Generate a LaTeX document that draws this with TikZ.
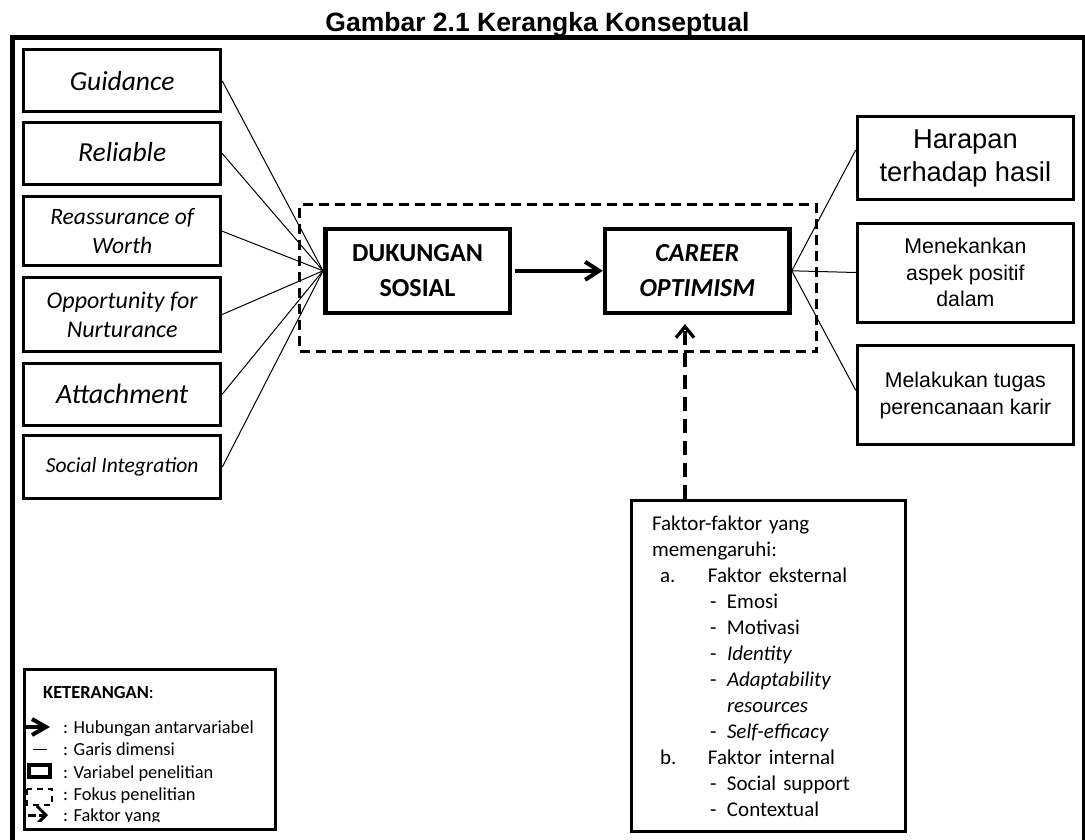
\documentclass[tikz,border=0pt]{standalone}
\usepackage{fontspec}
\setmainfont{Carlito}
\newfontfamily\arialfont{Liberation Sans}
\usetikzlibrary{positioning}
\usetikzlibrary{arrows.meta}
\newcommand{\poin}[2]{\hspace*{8pt}\makebox[48pt][l]{#1}#2}
\newcommand{\subpoin}[1]{\hspace*{58pt}\makebox[17pt][l]{-}#1}
\tikzset{
    dimnode/.style = {rectangle, draw=black, line width=3pt, inner sep=0pt, minimum width=197pt, minimum height=62pt, align=center, font=\itshape\fontsize{#1}{29}\selectfont},
    varnode/.style = {rectangle, draw=black, line width=4.5pt, inner sep=0pt, minimum width=184.5pt, minimum height=84pt, align=center, font=\fontsize{26}{34.5}\selectfont\bfseries},
    indnode/.style = {rectangle, draw=black, line width=3pt, inner sep=0pt, minimum width=216.3pt, minimum height=99pt, align=center, font=\arialfont\fontsize{21.3}{26.5}\selectfont},
    fokusnode/.style = {rectangle, draw=black, line width=3pt, dash pattern=on 10pt off 6pt, inner sep=0pt, minimum width=517pt, minimum height=147pt},
    faktnode/.style = {rectangle, draw=black, line width=3pt, inner sep=0pt, minimum width=274pt, minimum height=331pt, text width=233pt, align=left, font=\fontsize{21}{26}\selectfont},
    ketnode/.style = {rectangle, draw=black, line width=3pt, inner sep=0pt, minimum width=251pt, minimum height=160pt},
    kettext/.style = {anchor=base west, inner sep=0pt, font=\fontsize{18.4}{22}\selectfont},
    titlenode/.style = {anchor=base, inner sep=0pt, font=\arialfont\bfseries\fontsize{26.5}{30}\selectfont},
    edgen/.style = {-, line width=1pt, black},
    edgea/.style = {-{Straight Barb[length=14pt,width=18pt]}, line width=4pt, black},
    edged/.style = {-{Straight Barb[length=11pt,width=18pt]}, line width=3.3pt, black, dash pattern=on 14pt off 8pt},
    frame/.style = {line width=5.5pt, black}
}
\begin{document}
\begin{tikzpicture}[x=1pt, y=-1pt]
\path[use as bounding box] (0,0) rectangle (1085,840);
\clip (0,0) rectangle (1085,840);

\node[titlenode] at (537.5, 32.0) (judul) {Gambar 2.1 Kerangka Konseptual};
\draw[frame] (12.5,37.5) rectangle (1084.5,900);

\node[fokusnode] at (558.0, 278.0) (fokus) {};
%
\node[dimnode=27.5] at (122.2, 80.8) (guid) {Guidance};
\node[dimnode=27.5] at (122.2, 153.5) (reli) {\raisebox{4pt}{Reliable}};
\node[dimnode=23.5, minimum height=69pt] at (122.2, 231.2) (reas) {\raisebox{-5pt}{Reassurance of}\\\raisebox{-5pt}{Worth}};
\node[dimnode=24, minimum height=74.6pt] at (122.2, 314.5) (oppo) {Opportunity for\\Nurturance};
\node[dimnode=28] at (122.2, 394.2) (atta) {Attachment};
\node[dimnode=21.5, minimum height=62.7pt] at (122.2, 467.2) (soci) {Social Integration};
%
\node[varnode] at (417.5, 270.8) (dukungan) {DUKUNGAN\\SOSIAL};
\node[varnode] at (697.3, 270.8) (career) {\textit{CAREER}\\\textit{OPTIMISM}};
%
\node[indnode, font=\arialfont\fontsize{27.3}{33}\selectfont, minimum height=83pt] at (965.4, 158.0) (hara) {Harapan\\terhadap hasil};
\node[indnode] at (965.4, 272.5) (mene) {Menekankan\\aspek positif\\dalam};
\node[indnode] at (965.4, 395.3) (mela) {Melakukan tugas\\perencanaan karir};
%
\node[faktnode] at (768.5, 666.0) (fakt) {Faktor-faktor yang\\
memengaruhi:\\
\poin{a.}{Faktor eksternal}\\
\subpoin{Emosi}\\
\subpoin{Motivasi}\\
\subpoin{\textit{Identity}}\\
\subpoin{\textit{Adaptability}}\\
\hspace*{75pt}\textit{resources}\\
\subpoin{\textit{Self-efficacy}}\\
\poin{b.}{Faktor internal}\\
\subpoin{Social support}\\
\subpoin{Contextual}};
%
\draw[edgen] (guid.east) -- (dukungan.west);
\draw[edgen] (reli.east) -- (dukungan.west);
\draw[edgen] (reas.east) -- (dukungan.west);
\draw[edgen] (oppo.east) -- (dukungan.west);
\draw[edgen] (atta.east) -- (dukungan.west);
\draw[edgen] (soci.east) -- (dukungan.west);
\draw[edgen] (career.east) -- ([yshift=8pt]hara.west);
\draw[edgen] (career.east) -- (mene.west);
\draw[edgen] (career.east) -- ([yshift=5pt]mela.west);
\draw[edgea] ([xshift=3pt]dukungan.east) -- (career.west);
\draw[edged] ([xshift=-83.5pt]fakt.north) -- ([xshift=-12.3pt,yshift=-9pt]career.south);

% keterangan
\node[ketnode] at (150.0, 749.5) (ket) {};
\begin{scope}
\clip (23,668) rectangle (277,821);
\node[kettext] at (43, 698) (k0) {\textbf{KETERANGAN}:};
\node[kettext] at (63, 733) (k1) {: Hubungan antarvariabel};
\node[kettext] at (63, 755) (k2) {: Garis dimensi};
\node[kettext] at (63, 778) (k3) {: Variabel penelitian};
\node[kettext] at (63, 800) (k4) {: Fokus penelitian};
\node[kettext] at (63, 821) (k5) {: Faktor yang};
\draw[-{Straight Barb[length=14pt,width=16pt]}, line width=4pt] (25,727) -- (50,727);
\draw[line width=1pt] (33,749) -- (47,749);
\draw[line width=4pt] (29,765) rectangle (50,777);
\draw[line width=2.5pt, dash pattern=on 6pt off 5pt] (27,789) rectangle (52,805);
\draw[-{Straight Barb[length=9pt,width=18pt]}, line width=3pt, dash pattern=on 8pt off 3pt] (28,815) -- (48,815);
\end{scope}
\end{tikzpicture}
\end{document}
